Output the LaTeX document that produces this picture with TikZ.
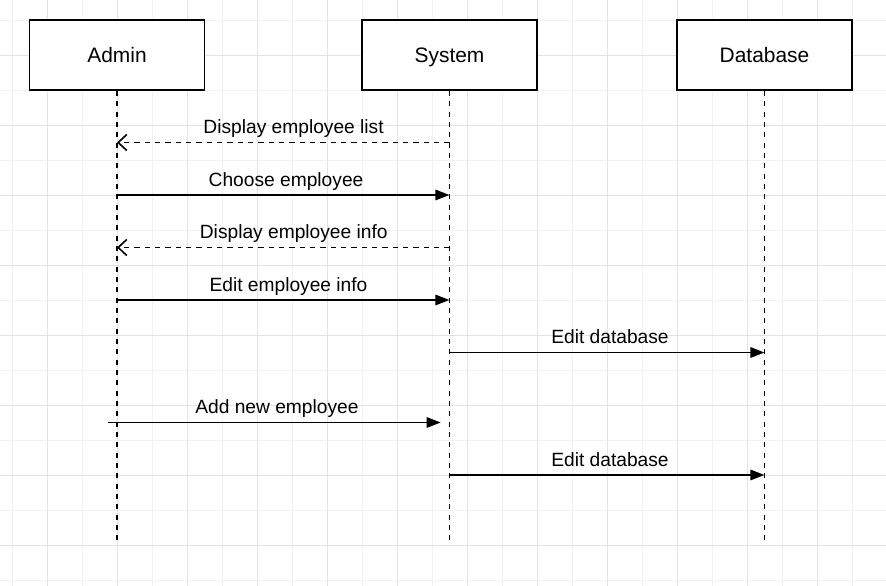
\documentclass[tikz,border=0pt]{standalone}
\usepackage{fontspec}
\setmainfont{Liberation Sans}
\usetikzlibrary{arrows.meta}

\begin{document}
\begin{tikzpicture}[x=0.5cm, y=0.5cm,
		actor/.style={draw, line width=1.4pt, fill=white, minimum width=5cm, minimum height=2cm, text height=12.2pt, text depth=0pt, font=\fontsize{17}{20}\selectfont},
		lifeline/.style={line width=1.5pt, dash pattern=on 4.2pt off 4.2pt},
		msg/.style={line width=1.5pt, -{Triangle[length=11.5pt, width=8.5pt]}},
		reply/.style={line width=1.4pt, dash pattern=on 4.2pt off 4.2pt, -{Straight Barb[length=7pt, width=13pt, line width=1.3pt]}},
		lbl/.style={anchor=base, inner sep=0pt, font=\fontsize{15.6}{18}\selectfont}]
	\useasboundingbox (-2.686,3.143) rectangle (47.943,-30.343);

	% Rejilla de fondo
	\begin{scope}
		\clip (-2.686,3.143) rectangle (47.943,-30.343);
		\draw[line width=0.8pt, gray!10] (-3,-31) grid (48,4);
		\draw[line width=0.8pt, gray!22] (-4,-32) grid[step=2cm] (48,4);
	\end{scope}

	% Participantes
	\node[actor] (admin) at (4,0) {Admin};
	\node[actor] (system) at (23,0) {System};
	\node[actor] (database) at (41,0) {Database};

	% Filas de los mensajes
	\coordinate (bottom) at (0,-28);
	\coordinate (r1) at (0,-5);
	\coordinate (r2) at (0,-8);
	\coordinate (r3) at (0,-11);
	\coordinate (r4) at (0,-14);
	\coordinate (r5) at (0,-17);
	\coordinate (r7) at (0,-24);
	\coordinate (newstart) at (3.5,-21);
	\coordinate (newend) at (22.5,-21);

	% Lineas de vida
	\draw[lifeline] (admin.south) -- (admin |- bottom);
	\draw[lifeline] (system.south) -- (system |- bottom);
	\draw[lifeline] (database.south) -- (database |- bottom);

	% Mensajes
	\draw[reply] (system |- r1) -- (admin |- r1);
	\node[lbl] (l1) at (14.09,-4.49) {Display employee list};

	\draw[msg] (admin |- r2) -- (system |- r2);
	\node[lbl] (l2) at (13.66,-7.49) {Choose employee};

	\draw[reply] (system |- r3) -- (admin |- r3);
	\node[lbl] (l3) at (14.1,-10.49) {Display employee info};

	\draw[msg] (admin |- r4) -- (system |- r4);
	\node[lbl] (l4) at (13.8,-13.49) {Edit employee info};

	\draw[msg] (system |- r5) -- (database |- r5);
	\node[lbl] (l5) at (32.17,-16.49) {Edit database};

	\draw[msg] (newstart) -- (newend);
	\node[lbl] (l6) at (13.14,-20.49) {Add new employee};

	\draw[msg] (system |- r7) -- (database |- r7);
	\node[lbl] (l7) at (32.17,-23.49) {Edit database};
\end{tikzpicture}
\end{document}
